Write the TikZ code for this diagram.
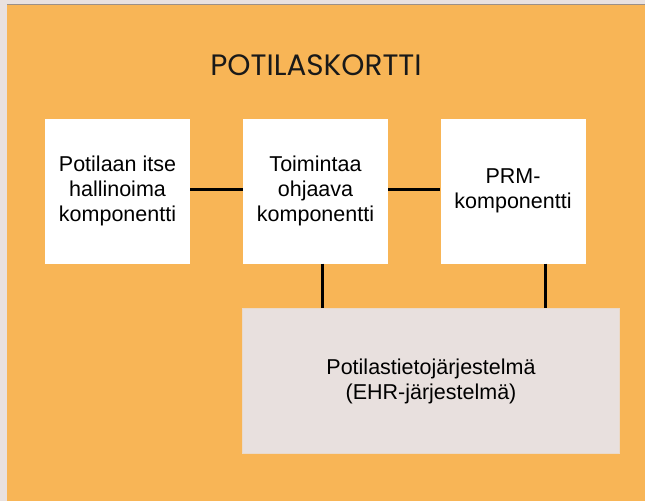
\documentclass[tikz,border=0pt]{standalone}
\usepackage{fontspec}
\setmainfont{Liberation Sans}
\newfontfamily\titlefont{Poppins}
\usepackage{tikz}
\usetikzlibrary{positioning}
\definecolor{paper}{HTML}{E9E1DF}
\definecolor{orange}{HTML}{F8B556}
\definecolor{ehr}{HTML}{E8E0DE}
\definecolor{rim}{HTML}{9C9088}

\begin{document}
\begin{tikzpicture}[x=1pt,y=-1pt,
  comp/.style={fill=white,minimum width=145pt,minimum height=145pt,align=center,
    font=\fontsize{21.5}{25}\selectfont,inner sep=0pt},
  link/.style={black,line width=3pt}]
  \useasboundingbox (0,0) rectangle (645,501);
  \fill[paper] (0,0) rectangle (645,501);
  \fill[orange] (7,5) rectangle (645,501);
  \draw[rim,line width=1pt] (7,4.5) -- (645,4.5);

  \node[font=\titlefont\fontsize{29.5}{34}\selectfont,text=black!90] (title) at (316,65)
    {POTILASKORTTI};

  \node[comp] (own) at (117.5,191) {Potilaan itse\\hallinoima\\komponentti};
  \node[comp] (ctrl) at (315.5,191) {Toimintaa\\ohjaava\\komponentti};
  \node[comp] (prm) at (513,191) {PRM-\\komponentti};
  \node[fill=ehr,draw=ehr!85!orange,minimum width=377pt,minimum height=145pt,
    align=center,font=\fontsize{21.5}{25}\selectfont,inner sep=0pt] (ehrsys) at (431,381)
    {Potilastietojärjestelmä\\(EHR-järjestelmä)};

  \draw[link] (own.east |- 0,189) -- (ctrl.west |- 0,189);
  \draw[link] (ctrl.east |- 0,189) -- (prm.west |- 0,189);
  \draw[link] (ctrl.south -| 322,0) -- (ehrsys.north -| 322,0);
  \draw[link] (prm.south -| 545,0) -- (ehrsys.north -| 545,0);
\end{tikzpicture}
\end{document}
